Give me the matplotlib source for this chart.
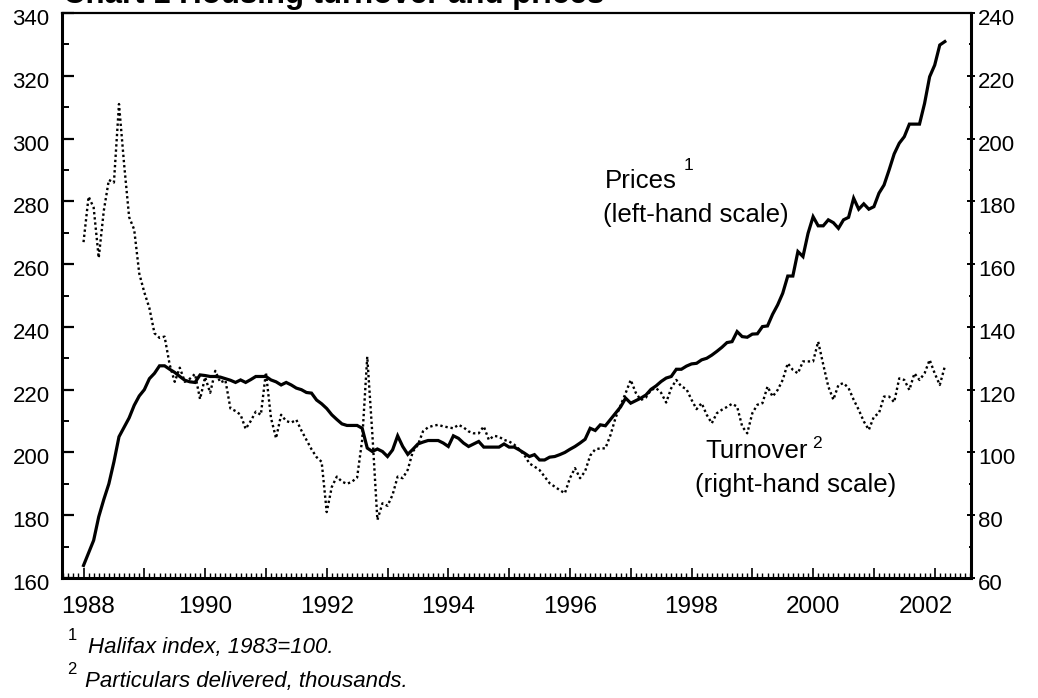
import matplotlib
matplotlib.use("Agg")
import matplotlib.pyplot as plt
import numpy as np
from matplotlib.ticker import MultipleLocator
from matplotlib.transforms import ScaledTranslation

plt.rcParams['font.family'] = ['Liberation Sans', 'DejaVu Sans']

# monthly data, Jan 1988 - Mar 2002
prices = [
    164, 168, 172, 179.5, 185, 190, 197, 205, 208, 211, 215, 218,                      # 1988
    220, 223.5, 225.2, 227.6, 227.6, 226.5, 225.5, 224.2, 223, 222.5, 222.3, 224.7,    # 1989
    224.5, 224.2, 224.2, 224, 223.5, 223, 222.3, 223.1, 222.3, 223.2, 224.2, 224.2,    # 1990
    224.2, 223.1, 222.5, 221.5, 222.3, 221.5, 220.5, 220, 219.1, 218.9, 216.7, 215.5,  # 1991
    214, 212, 210.5, 209.1, 208.6, 208.6, 208.6, 207.7, 201.4, 200.3, 201.1, 200.3,    # 1992
    198.7, 200.8, 205.3, 201.9, 199.4, 201, 202.7, 203.3, 203.8, 203.8, 203.8, 203,    # 1993
    201.9, 205.3, 204.5, 203, 201.9, 202.7, 203.5, 201.7, 201.7, 201.7, 201.7, 202.7,  # 1994
    201.7, 201.7, 200.8, 199.8, 198.7, 199.3, 197.6, 197.6, 198.5, 198.7, 199.3, 200,  # 1995
    201, 201.9, 203, 204.2, 207.7, 207, 208.8, 208.5, 210.5, 212.5, 214.5, 217.3,      # 1996
    215.7, 216.5, 217.3, 218.3, 220.1, 221.2, 222.6, 223.7, 224.2, 226.5, 226.5, 227.5,  # 1997
    228.2, 228.4, 229.5, 230, 231, 232.2, 233.5, 235, 235.3, 238.5, 236.9, 236.7,      # 1998
    237.7, 237.8, 240.1, 240.3, 244, 247, 250.7, 256.2, 256.2, 264, 262.4, 269.8,      # 1999
    275.1, 272.2, 272.2, 274.1, 273.2, 271.4, 274.1, 274.9, 281, 277.5, 279.2, 277.5,  # 2000
    278.3, 282.6, 285.2, 290, 295.1, 298.5, 300.6, 304.6, 304.6, 304.6, 311.2, 319.7,  # 2001
    323.4, 329.8, 330.9,                                                               # 2002
]
turnover = [
    167, 181.5, 178, 162, 177, 186.8, 186, 211, 192, 175, 171, 157,
    151, 146, 138, 136.5, 136.9, 128, 122.5, 127, 122.5, 123.5, 125, 117,
    124, 119, 126, 122.3, 123, 114, 113.2, 112, 107.5, 110, 113, 112,
    125.5, 111, 104.5, 112, 110, 109.5, 110.4, 107, 104, 101, 98.5, 97,
    81, 89, 92.3, 90.7, 90, 90.7, 92, 104, 130.5, 106, 78.5, 83.8,
    83, 86.5, 92.3, 91.8, 94.5, 100.3, 102.4, 106.7, 108, 108.5, 108.8, 108.3,
    108, 107.7, 108.8, 108, 106.7, 106.1, 106.1, 108.3, 104, 105.3, 105, 104,
    103.5, 102.5, 101, 99.2, 96.5, 95.5, 94.4, 92.3, 90.2, 89.1, 88, 87,
    91.8, 95, 91.8, 94, 99, 101, 101.3, 101.3, 105.5, 111, 115, 118.9,
    123.1, 119, 116.7, 117.5, 119.9, 120.5, 119, 115.9, 120.5, 123.1, 121, 120.2,
    116.8, 113.8, 115.7, 112, 109.3, 112.5, 113.6, 114.5, 115.5, 114.6, 108.3, 106.1,
    112.5, 115.2, 115.7, 121, 117.8, 119.9, 123.1, 128.4, 126.3, 125.2, 129, 129,
    129, 135.3, 128, 121, 116.8, 121.5, 122.1, 120.5, 116.8, 113.6, 109.9, 107.2,
    111.4, 112.5, 117.8, 117.8, 116, 123.6, 123.1, 119.9, 125.2, 123.1, 125.2, 129.5,
    125.2, 121.5, 127.4,
]
years = list(range(1988, 2003))
year_labels = [str(y) if y % 2 == 0 else '' for y in years]
left_ticks = list(range(160, 341, 20))
right_ticks = list(range(60, 241, 20))

months = 1988 + np.arange(len(prices)) / 12

W, H = 1038, 698
fig = plt.figure(figsize=(W / 100, H / 100), dpi=100)
ax = fig.add_axes([62 / W, 1 - 578 / H, 909 / W, 565 / H])
ax2 = ax.twinx()

ax.plot(months, prices, color='black', lw=2.3, solid_joinstyle='miter')
ax2.plot(months, turnover, color='black', lw=1.7, linestyle=(0, (1, 1.2)))

ax.set_xlim(1987.646, 2002.597)
ax.set_ylim(160, 340)
ax2.set_ylim(60, 240)

ax.set_xticks(years)
ax.set_xticklabels(year_labels)
ax.xaxis.set_minor_locator(MultipleLocator(1 / 12))
ax.set_yticks(left_ticks)
ax.yaxis.set_minor_locator(MultipleLocator(10))
ax2.set_yticks(right_ticks)
ax2.yaxis.set_minor_locator(MultipleLocator(10))

ax.tick_params(axis='x', which='major', direction='in', length=7, width=1.2,
               labelsize=17.5, pad=13, top=False)
ax.tick_params(axis='x', which='minor', direction='in', length=3.5, width=1.0, top=False)
ax.tick_params(axis='y', which='major', direction='in', length=8.5, width=1.6,
               labelsize=16, pad=9)
ax.tick_params(axis='y', which='minor', direction='in', length=5, width=1.4)
ax2.tick_params(axis='y', which='major', direction='inout', length=6, width=1.4,
                labelsize=16, pad=2)
ax2.tick_params(axis='y', which='minor', direction='inout', length=3, width=1.4)

for s in ['left', 'bottom']:
    ax.spines[s].set_linewidth(2.2)
ax.spines['top'].set_linewidth(1.6)
ax.spines['right'].set_visible(False)
ax2.spines['right'].set_linewidth(2.2)
for s in ['left', 'top', 'bottom']:
    ax2.spines[s].set_visible(False)

# Excel-style label offsets
down = ScaledTranslation(0, -0.04, fig.dpi_scale_trans)
for lab in ax.get_yticklabels() + ax2.get_yticklabels():
    lab.set_transform(lab.get_transform() + down)
xl = ax.get_xticklabels()
xl[0].set_transform(xl[0].get_transform() + ScaledTranslation(0.04, 0, fig.dpi_scale_trans))
xl[-1].set_transform(xl[-1].get_transform() + ScaledTranslation(-0.09, 0, fig.dpi_scale_trans))


def px(x, y):
    return x / W, 1 - y / H


fig.text(*px(63, 3), 'Chart 1 Housing turnover and prices', fontsize=22.5,
         fontweight='bold', va='baseline', ha='left')

fig.text(*px(605, 188), 'Prices', fontsize=18.6, va='baseline')
fig.text(*px(684, 170), '1', fontsize=12.5, va='baseline')
fig.text(*px(603, 222), '(left-hand scale)', fontsize=18.6, va='baseline')
fig.text(*px(705, 458), 'Turnover', fontsize=18.6, va='baseline')
fig.text(*px(812, 448), '2', fontsize=12.5, va='baseline')
fig.text(*px(695, 492), '(right-hand scale)', fontsize=18.6, va='baseline')

fig.text(*px(68, 640), '1', fontsize=12, va='baseline')
fig.text(*px(88, 653), 'Halifax index, 1983=100.', fontsize=16, style='italic', va='baseline')
fig.text(*px(67, 674), '2', fontsize=12, va='baseline')
fig.text(*px(85, 687), 'Particulars delivered, thousands.', fontsize=16, style='italic',
         va='baseline')

fig.savefig('out.png', dpi=100)
